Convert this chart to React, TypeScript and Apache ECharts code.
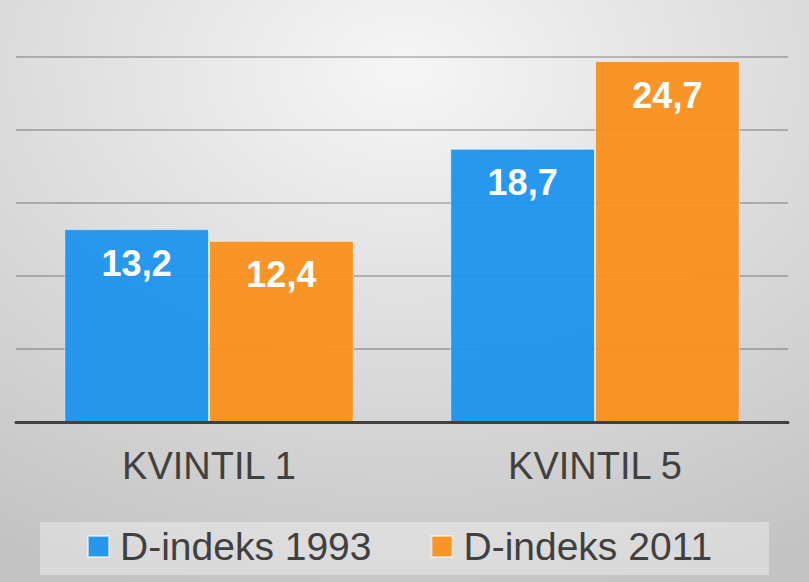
import React, { useEffect, useRef } from "react";
import * as echarts from "echarts";

const categories = ["KVINTIL 1", "KVINTIL 5"];
const seriesNames = ["D-indeks 1993", "D-indeks 2011"];
const values1993 = [13.2, 18.7];
const values2011 = [12.4, 24.7];
const yMin = 0;
const yMax = 25;
const yInterval = 5;

const FONT = "'Liberation Sans', Arial, sans-serif";

export default function App() {
  const ref = useRef<HTMLDivElement>(null);
  useEffect(() => {
    document.body.style.margin = "0";
    if (!ref.current) return;
    const chart = echarts.init(ref.current, null, { renderer: "svg" });
    const labelFmt = (p: any) => String(p.value).replace(".", ",");
    const barLabel = {
      show: true,
      position: "insideTop" as const,
      distance: 16,
      color: "#ffffff",
      fontSize: 36,
      fontWeight: "bold" as const,
      fontFamily: FONT,
      formatter: labelFmt,
    };
    chart.setOption({
      animation: false,
      backgroundColor: {
        type: "radial",
        x: 0.5,
        y: 0.12,
        r: 0.95,
        colorStops: [
          { offset: 0, color: "#f6f6f6" },
          { offset: 1, color: "#c3c3c3" },
        ],
      },
      graphic: [
        {
          type: "rect",
          shape: { x: 40, y: 522, width: 729, height: 53 },
          style: { fill: "rgba(255,255,255,0.35)" },
          z: 0,
        },
      ],
      grid: { left: 16, right: 21, top: 56.7, bottom: 160, containLabel: false },
      legend: {
        data: seriesNames,
        left: 87,
        top: 527,
        itemWidth: 21,
        itemHeight: 21,
        itemGap: 59,
        icon: "rect",
        padding: 0,
        textStyle: {
          fontSize: 39,
          color: "#404040",
          fontFamily: FONT,
          padding: [0, 0, 0, 6],
        },
      },
      xAxis: {
        type: "category",
        data: categories,
        axisLine: { show: true, lineStyle: { color: "#404040", width: 3 } },
        axisTick: { show: false },
        axisLabel: { color: "#404040", fontSize: 38, fontFamily: FONT, margin: 25 },
        z: 5,
      },
      yAxis: {
        type: "value",
        min: yMin,
        max: yMax,
        interval: yInterval,
        axisLabel: { show: false },
        axisLine: { show: false },
        axisTick: { show: false },
        splitLine: { show: true, lineStyle: { color: "rgba(0,0,0,0.22)", width: 2 } },
      },
      series: [
        {
          name: seriesNames[0],
          type: "bar",
          data: values1993,
          barGap: "0%",
          barCategoryGap: "25%",
          itemStyle: {
            color: "rgba(30,148,238,0.95)",
            borderColor: "rgba(255,255,255,0.55)",
            borderWidth: 1,
          },
          label: barLabel,
        },
        {
          name: seriesNames[1],
          type: "bar",
          data: values2011,
          barGap: "0%",
          barCategoryGap: "25%",
          itemStyle: {
            color: "rgba(250,143,30,0.95)",
            borderColor: "rgba(255,255,255,0.55)",
            borderWidth: 1,
          },
          label: barLabel,
        },
      ],
    });
    return () => chart.dispose();
  }, []);
  return <div ref={ref} style={{ width: 809, height: 582 }} />;
}
